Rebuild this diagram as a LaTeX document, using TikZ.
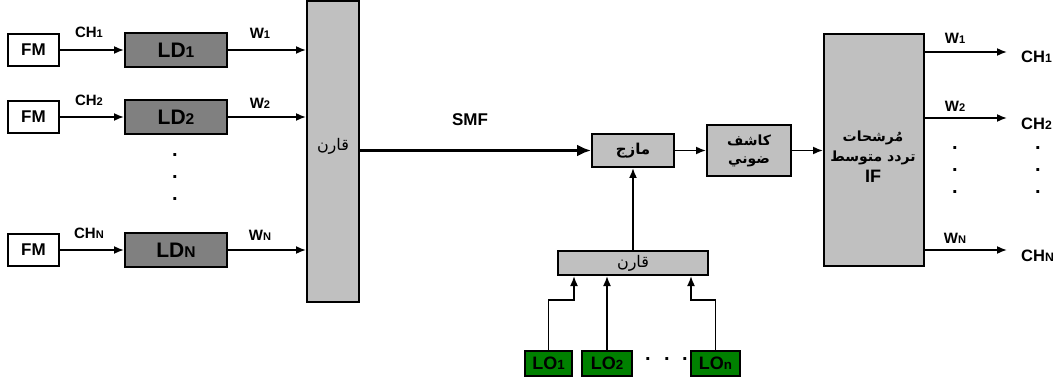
\documentclass[tikz,border=0pt]{standalone}
\usepackage{fontspec}
\setmainfont{Liberation Sans}
\newfontfamily\arabicfont[Script=Arabic]{DejaVu Sans}
\TeXXeTstate=1
\usetikzlibrary{arrows.meta}
\definecolor{boxgray}{RGB}{192,192,192}
\definecolor{ldgray}{RGB}{128,128,128}
\definecolor{logreen}{RGB}{0,128,0}
\newcommand\sbx[1]{\scalebox{0.74}{#1}}
\newcommand\fs[1]{\fontsize{#1}{#1}\selectfont}
\tikzset{
  blk/.style={draw=black, line width=2pt, inner sep=0pt, font=\bfseries},
  fmbox/.style={blk, fill=white, minimum width=51pt, minimum height=32pt, font=\bfseries\fs{17}},
  ldbox/.style={blk, fill=ldgray, minimum width=102pt, minimum height=34pt, font=\bfseries\fs{21}},
  graybox/.style={blk, fill=boxgray},
  lobox/.style={blk, fill=logreen, minimum height=25pt, font=\bfseries\fs{18}},
  conn/.style={line width=1.7pt, -{Latex[length=10pt,width=8pt]}},
  lab/.style={font=\bfseries\fs{15}, inner sep=0pt},
  wlab/.style={font=\bfseries\fs{15}, inner sep=0pt},
  rlab/.style={font=\bfseries\fs{16.5}, inner sep=0pt, anchor=west},
  dot/.style={font=\bfseries\fs{20}, inner sep=0pt},
  arab/.style={font=\arabicfont\bfseries\fs{14}},
}
\begin{document}
\begin{tikzpicture}[x=1pt,y=-1pt]
\useasboundingbox (0,0) rectangle (1059,382);
% left sources
\node[fmbox] (fm1) at (33.5,50) {FM};
\node[fmbox] (fm2) at (33.5,117) {FM};
\node[fmbox] (fmn) at (33.5,250) {FM};
\node[ldbox] (ld1) at (176,50) {LD\sbx{1}};
\node[ldbox] (ld2) at (176,117) {LD\sbx{2}};
\node[ldbox] (ldn) at (176,250) {LD\sbx{N}};
\node[graybox, minimum width=52pt, minimum height=300pt] (comb) at (333,151.5) {};
\node[inner sep=0pt, font=\arabicfont\fs{16}] (combt) at (333,146) {\beginR قارن\endR};
% labels
\node[lab] (ch1) at (89,32) {CH\sbx{1}};
\node[lab] (ch2) at (89,100) {CH\sbx{2}};
\node[lab] (chn) at (89,233) {CH\sbx{N}};
\node[wlab] (w1) at (260,33) {W\sbx{1}};
\node[wlab] (w2) at (260,103) {W\sbx{2}};
\node[wlab] (wn) at (260,235) {W\sbx{N}};
\node[dot] (d1) at (175,155) {.};
\node[dot] (d2) at (175,177) {.};
\node[dot] (d3) at (175,199) {.};
\draw[conn] (fm1) -- (ld1);
\draw[conn] (fm2) -- (ld2);
\draw[conn] (fmn) -- (ldn);
\draw[conn] (ld1.east) -- (ld1.east -| comb.west);
\draw[conn] (ld2.east) -- (ld2.east -| comb.west);
\draw[conn] (ldn.east) -- (ldn.east -| comb.west);
% middle
\node[graybox, font=\arabicfont\bfseries\fs{15}, minimum width=82pt, minimum height=33pt] (mix) at (633,150.5) {\beginR مازج\endR};
\node[graybox, arab, minimum width=84pt, minimum height=51pt, align=center] (det) at (749,150.5) {\beginR كاشف\endR\\[4pt]\beginR ضوني\endR};
\node[font=\bfseries\fs{17}, inner sep=0pt] (smf) at (470,120) {SMF};
\draw[line width=3.4pt, -{Latex[length=14pt,width=12pt]}] (mix.west -| comb.east) -- (mix.west);
\draw[conn] (mix) -- (det);
% IF filters
\node[graybox, minimum width=100pt, minimum height=232pt] (iff) at (874,150) {};
\node[inner sep=0pt, arab, align=center] (ift) at (873,157) {\beginR مُرشحات\endR\\[5pt]\beginR تردد متوسط\endR\\[4pt]{\fontspec{Liberation Sans}\bfseries\fs{18}IF}};
\draw[conn] (det) -- (det -| iff.west);
\coordinate (o1) at (1007,52);
\coordinate (o2) at (1007,118);
\coordinate (on) at (1007,250);
\draw[conn] (o1 -| iff.east) -- (o1);
\draw[conn] (o2 -| iff.east) -- (o2);
\draw[conn] (on -| iff.east) -- (on);
\node[wlab] (rw1) at (955,38) {W\sbx{1}};
\node[wlab] (rw2) at (955,106) {W\sbx{2}};
\node[wlab] (rwn) at (955,238) {W\sbx{N}};
\node[rlab] (rch1) at (1021,57) {CH\sbx{1}};
\node[rlab] (rch2) at (1021,124) {CH\sbx{2}};
\node[rlab] (rchn) at (1021,256) {CH\sbx{N}};
\node[dot] (rd1) at (955,148) {.};
\node[dot] (rd2) at (955,170) {.};
\node[dot] (rd3) at (955,192) {.};
\node[dot] (rd4) at (1038,148) {.};
\node[dot] (rd5) at (1038,170) {.};
\node[dot] (rd6) at (1038,192) {.};
% local oscillators
\node[graybox, minimum width=150pt, minimum height=24pt, font=\arabicfont\fs{16}] (comb2) at (633,263) {\beginR قارن\endR};
\draw[conn] (comb2.north) -- (mix.south);
\node[lobox, minimum width=47pt] (lo1) at (548.5,363.5) {LO\sbx{1}};
\node[lobox, minimum width=50pt] (lo2) at (607,363.5) {LO\sbx{2}};
\node[lobox, minimum width=49pt] (lon) at (715.5,363.5) {LO\sbx{n}};
\node[dot] (ld4) at (648,359) {.};
\node[dot] (ld5) at (667,359) {.};
\node[dot] (ld6) at (685,359) {.};
\coordinate (k1) at (574,300);
\coordinate (k3) at (691,300);
\draw[conn] (lo1.north) |- (k1) -- (k1 |- comb2.south);
\draw[conn] (lo2.north) -- (lo2.north |- comb2.south);
\draw[conn] (lon.north) |- (k3) -- (k3 |- comb2.south);
\end{tikzpicture}
\end{document}
